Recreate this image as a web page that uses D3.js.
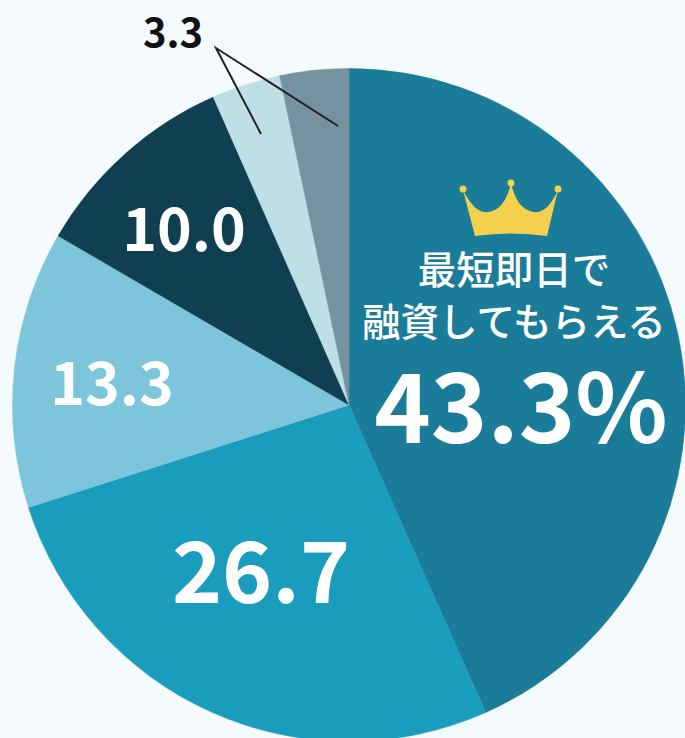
<!DOCTYPE html>
<html><head><meta charset="utf-8">
<style>html,body{margin:0;padding:0;background:#f5faff;overflow:hidden}svg{display:block}
text{font-family:"Noto Sans CJK JP","Noto Sans",sans-serif}</style>
<script src="https://cdnjs.cloudflare.com/ajax/libs/d3/7.8.5/d3.min.js"></script></head>
<body><svg id="c" width="685" height="738"></svg>
<script>
const categories=["最短即日で融資してもらえる","b","c","d","e","f"];
const values=[43.3,26.7,13.3,10.0,3.3,3.3];
const colors=["#1b7c99","#1a9cbd","#7cc5da","#0f3f50","#bfdfe6","#74929f"];
const labels=["43.3%","26.7","13.3","10.0","",""];
const cx=349,cy=405,R=336.5;
const svg=d3.select("#c");
const pie=d3.pie().sort(null).value(d=>d)(values);
const arc=d3.arc().innerRadius(0).outerRadius(R);
svg.append("g").attr("transform",`translate(${cx},${cy})`).selectAll("path").data(pie).join("path")
 .attr("d",arc).attr("fill",(d,i)=>colors[i]).attr("stroke",(d,i)=>colors[i]).attr("stroke-width",0.5);
const T=(s,x,y,fs,col,w)=>svg.append("text").attr("x",x).attr("y",y).attr("text-anchor","middle")
 .attr("font-size",fs).attr("font-weight",w||700).attr("fill",col).text(s);
T(labels[0],521,443,96,"#fff");
T(labels[1],261,603,85,"#fff");
T(labels[2],112,405,59,"#fff");
T(labels[3],184,251,59,"#fff");
T("最短即日で",514,284,38.5,"#fff",500);
T("融資してもらえる",514,336,38.5,"#fff",500);
T("3.3",173,47,40,"#111");
const crown=d3.path();
crown.moveTo(463,190);crown.quadraticCurveTo(475,214,488,212);crown.quadraticCurveTo(505,210,511,183);
crown.quadraticCurveTo(517,210,534,212);crown.quadraticCurveTo(547,214,558,190);
crown.lineTo(547,236);crown.quadraticCurveTo(511,231,475,236);crown.closePath();
svg.append("path").attr("d",crown.toString()).attr("fill","#f5d04e");
[[463,189],[511,183],[558,189]].forEach(p=>svg.append("circle").attr("cx",p[0]).attr("cy",p[1]).attr("r",3.5).attr("fill","#f5d04e"));
const l=d3.path();l.moveTo(261,134);l.lineTo(216,48);l.lineTo(338,126);
svg.append("path").attr("d",l.toString()).attr("fill","none").attr("stroke","#222").attr("stroke-width",2);
</script></body></html>
